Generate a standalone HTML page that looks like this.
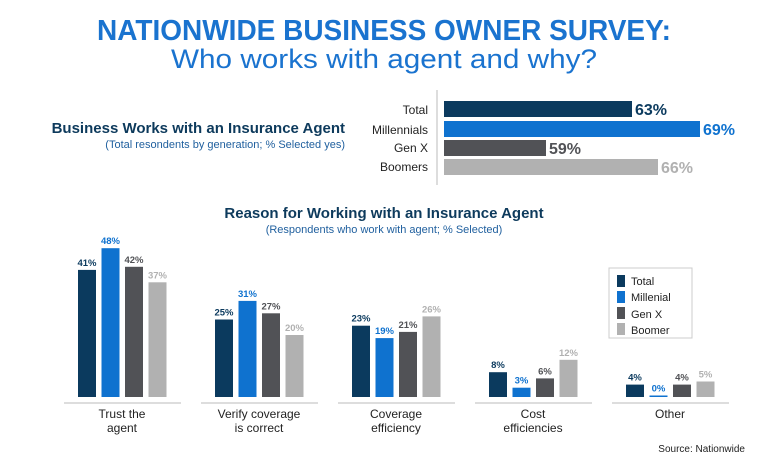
<!DOCTYPE html><html><head><style>
body{margin:0;width:768px;height:470px;background:#fff;font-family:"Liberation Sans",sans-serif;overflow:hidden}
svg text{font-family:"Liberation Sans",sans-serif}
</style></head><body>
<svg width="768" height="470" xmlns="http://www.w3.org/2000/svg">
<text x="384" y="40" text-anchor="middle" font-size="29" font-weight="bold" fill="#1a73cf" textLength="574" lengthAdjust="spacingAndGlyphs">NATIONWIDE BUSINESS OWNER SURVEY:</text>
<text x="384" y="68" text-anchor="middle" font-size="27" fill="#1a73cf" textLength="426" lengthAdjust="spacingAndGlyphs">Who works with agent and why?</text>
<text x="345" y="133" text-anchor="end" font-size="15" font-weight="bold" fill="#0d3a5c">Business Works with an Insurance Agent</text>
<text x="345" y="148" text-anchor="end" font-size="11" fill="#1f5f9e">(Total resondents by generation; % Selected yes)</text>
<line x1="437" y1="90" x2="437" y2="185" stroke="#bbb"/>
<g font-size="12" fill="#222" text-anchor="end">
<text x="428" y="114">Total</text><text x="428" y="134">Millennials</text><text x="428" y="152">Gen X</text><text x="428" y="171">Boomers</text></g>
<rect x="444" y="101" width="188" height="16" fill="#0b3a5e"/>
<rect x="444" y="121" width="256" height="16" fill="#0f72cf"/>
<rect x="444" y="140" width="102" height="16" fill="#515256"/>
<rect x="444" y="159" width="214" height="16" fill="#b1b1b1"/>
<g font-size="16" font-weight="bold">
<text x="635" y="115" fill="#0b3a5e">63%</text><text x="703" y="135" fill="#0f72cf">69%</text><text x="549" y="154" fill="#515256">59%</text><text x="661" y="173" fill="#b1b1b1">66%</text></g>
<text x="384" y="218" text-anchor="middle" font-size="15" font-weight="bold" fill="#0d3a5c">Reason for Working with an Insurance Agent</text>
<text x="384" y="233" text-anchor="middle" font-size="11" fill="#1f5f9e">(Respondents who work with agent; % Selected)</text>
<g id="bars"></g>
<rect x="609" y="268" width="83" height="70" fill="#fff" stroke="#ccc"/>
<g font-size="11" fill="#222">
<rect x="617" y="275" width="8" height="12" fill="#0b3a5e"/><text x="631" y="285">Total</text>
<rect x="617" y="291" width="8" height="12" fill="#0f72cf"/><text x="631" y="301">Millenial</text>
<rect x="617" y="307" width="8" height="12" fill="#515256"/><text x="631" y="318">Gen X</text>
<rect x="617" y="323" width="8" height="12" fill="#b1b1b1"/><text x="631" y="334">Boomer</text></g>
<text x="745" y="452" text-anchor="end" font-size="10" fill="#222">Source: Nationwide</text>
<script>
var g=document.getElementById('bars'),ns="http://www.w3.org/2000/svg";
var data=[[41,48,42,37],[25,31,27,20],[23,19,21,26],[8,3,6,12],[4,0,4,5]];
var labs=[["Trust the","agent"],["Verify coverage","is correct"],["Coverage","efficiency"],["Cost","efficiencies"],["Other",""]];
var cols=["#0b3a5e","#0f72cf","#515256","#b1b1b1"];
function el(t,a,txt){var e=document.createElementNS(ns,t);for(var k in a)e.setAttribute(k,a[k]);if(txt!=null)e.textContent=txt;g.appendChild(e);return e}
for(var i=0;i<5;i++){var x0=78+i*137;
el('line',{x1:x0-14,y1:403,x2:x0+103,y2:403,stroke:'#bbb','stroke-width':1});
for(var j=0;j<4;j++){var v=data[i][j],h=Math.max(v*3.1,1.5),x=x0+j*23.5;
el('rect',{x:x,y:397-h,width:18,height:h,fill:cols[j]});
el('text',{x:x+9,y:397-h-4,'text-anchor':'middle','font-size':9.5,'font-weight':'bold',fill:cols[j]},v+'%');}
el('text',{x:x0+44,y:418,'text-anchor':'middle','font-size':12,fill:'#222'},labs[i][0]);
el('text',{x:x0+44,y:432,'text-anchor':'middle','font-size':12,fill:'#222'},labs[i][1]);}
</script>
</svg></body></html>
